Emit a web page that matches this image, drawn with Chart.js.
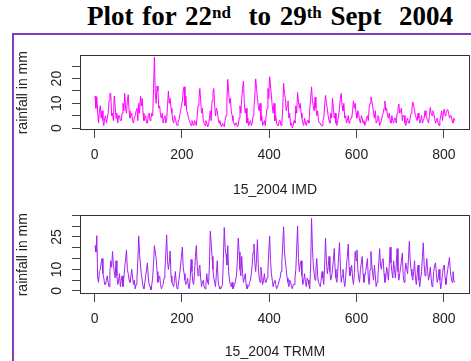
<!DOCTYPE html>
<html>
<head>
<meta charset="utf-8">
<script src="https://cdn.jsdelivr.net/npm/chart.js@4/dist/chart.umd.min.js"></script>
<style>
  body { margin: 0; background: #fff; width: 471px; height: 361px; overflow: hidden; position: relative; }
  #title { position: absolute; left: 87px; top: 1px; white-space: nowrap; font: bold 27px "Liberation Serif", "Times New Roman", serif; color: #000; word-spacing: 2px; }
  #title sup { font-size: 17px; vertical-align: 7px; line-height: 0; }
  #frameTop { position: absolute; left: 12px; top: 33px; width: 459px; height: 2px; background: #7f3fbf; z-index: 5; }
  #frameLeft { position: absolute; left: 12px; top: 33px; width: 2px; height: 328px; background: #7f3fbf; z-index: 5; }
  canvas { position: absolute; left: 0; }
  #imd { top: 40px; }
  #trmm { top: 200px; }
</style>
</head>
<body>
<div id="title">Plot for 22<sup>nd</sup>&nbsp; to 29<sup>th</sup> Sept&nbsp; 2004</div>
<div id="frameTop"></div>
<div id="frameLeft"></div>
<canvas id="imd" width="471" height="160"></canvas>
<canvas id="trmm" width="471" height="161"></canvas>
<script>
// one reading every 2 time steps (index 1, 3, 5 ... 825)
let step = 2;

let imdRain = [
  13,8, 12.5,6, 2,7, 9,4, 7,3, 1,4, 5,2, 4,6, 11,14, 14,5,
  6,3, 13,9, 4,6, 2,5, 5,3, 3,6, 10,7, 14,8, 6,11, 13.5,7,
  4,5, 6,3, 2,4, 5,7, 8,3, 10,6, 13,9, 12,6, 3,4, 5,2,
  2,5, 6,3, 4,6, 5,16, 28.7,14, 10,17, 15,8, 9,5, 4,6, 2,4,
  5,2, 3,9, 15,10, 12,8, 6,3, 2,5, 4,2, 1,3, 3,5, 7,9,
  11,15, 16.7,9, 13,7, 6,4, 3,2, 1,3, 2,1, 3,2, 1,5, 9,12,
  16,11, 6,8, 3,2, 1,3, 2,0.5, 1,4, 7,3, 11,14, 16,9, 5,8,
  7,4, 2,3, 1,0.5, 2,1, 0.5,3, 5,11, 19.7,15, 10,12, 7,5, 3,2,
  1,2, 2,0.5, 1,4, 9,6, 12,16, 19,10, 6,8, 2,4, 1,2, 3,1,
  2,5, 8,13, 19.9,16, 12,9, 7,10, 3,5, 1,2, 3,1, 5,8, 16,12,
  20.8,17, 13,9, 6,10, 3,5, 2,1, 1,3, 3,1, 2,8, 18.1,14, 12,7,
  9,11, 4,6, 1,2, 0,1, 3,2, 9,6, 14.4,11, 8,10, 6,4, 2,1,
  4,2, 1,3, 3,2, 8,12, 16.7,11, 9,7, 12.5,8, 5,7, 3,2, 2,1,
  1,3, 4,9, 13.2,10, 8,5, 3,2, 6,4, 12,8, 4,6, 2,1, 3,5,
  8,12, 14,9, 7,10, 4,5, 2,3, 5,2, 3,4, 4,7, 11,8, 10,6,
  4,7, 6,3, 2,5, 4,2, 3,1, 2,4, 5,3, 8,10, 12.6,11, 9,6,
  4,7, 2,3, 5,4, 1,2, 3,5, 6,8, 10.9,7, 8,5, 4,6, 3,2,
  5,3, 2,4, 4,2, 6,8, 9.7,6, 7,8, 3,5, 5,2, 1,3, 4,2,
  2,4, 6,8, 10.5,9, 7,5, 4,3, 6,4, 2,3, 5,2, 3,4, 7,5,
  4,3, 2,5, 8.3,6, 5,7, 6,4, 2,3, 4,2, 1,3, 5,7, 3,6,
  7.7,5, 6,7, 7.5,6, 4,5, 5,3, 2,4, 3
];

let trmmRain = [
  21,18, 25.6,6, 4,9, 10,13, 15,8, 6,3, 3,5, 7,4, 2,9, 14,11,
  18.3,12, 9,6, 14,7, 3,5, 8,2, 5,7, 2,6, 11,15, 19,10, 8,5,
  4,7, 10,6, 3,5, 1,3, 6,14, 25.5,17, 12,8, 5,2, 1,4, 7,10,
  13,6, 3,2, 0.5,3, 6,13, 21,18, 15,9, 4,6, 7,3, 1,2, 3,6,
  9,17, 26,14, 10,13, 18.5,7, 4,3, 2,5, 9,4, 1,2, 5,8, 12,16,
  20.3,11, 8,5, 3,4, 6,2, 1,6, 14.6,9, 4,3, 9,16, 21,12, 7,10,
  12,6, 2,4, 5,2, 1,3, 8,4, 3,12, 27.7,22, 16,10, 6,4, 2,8,
  14,5, 2,1, 1,2, 3,15, 29.4,20, 17,12, 21,9, 5,3, 2,4, 1,2,
  3,5, 7,14, 24.5,18, 10,7, 16,8, 4,6, 8,3, 1,2, 2,4, 5,8,
  12,18, 21.8,13, 9,15, 23.8,11, 6,4, 11,7, 3,5, 8,4, 4,6, 10,18,
  25.5,14, 8,5, 2,4, 5,3, 1,2, 3,5, 6,9, 13,22, 29.7,18, 13.6,10,
  6,4, 2,5, 4,2, 1,3, 3,6, 10,20, 30.1,15, 9,12, 14,7, 3,5,
  8,4, 2,6, 5,3, 1,12, 33.6,20, 12,8, 5,10, 15,7, 4,3, 2,5,
  9,6, 3,12, 24.5,14, 8,11, 16,9, 5,7, 10,14, 19.6,10, 6,4, 9,16,
  22.4,12, 4,7, 10,5, 2,6, 12,16, 21.7,11, 7,9, 12,6, 3,8, 18.3,14,
  19,10, 6,4, 10,13, 16,8, 4,7, 9,12, 15,6, 3,10, 18.3,12, 8,5,
  12,7, 2,4, 7,13, 19.6,12, 10,14, 15,8, 4,6, 11,9, 5,12, 20.3,13,
  9,6, 14,10, 6,12, 19.6,9, 5,8, 11,14, 17.6,7, 4,9, 13,10, 8,15,
  23,14, 10,7, 5,9, 14,6, 3,8, 12,5, 2,6, 9,16, 22.3,12, 7,10,
  15,9, 5,7, 11,6, 2,4, 9,12, 13,8, 4,6, 10,5, 1,4, 8,11,
  12,6, 3,7, 10,13, 15.5,9, 6,4, 9,5, 4
];

let imdYLabels = [0, 10, 20];
let trmmYLabels = [0, 10, 25];

let textFont = { family: 'Liberation Sans, Arial, sans-serif', size: 14 };
let textColor = '#222';

let boxPlugin = {
  id: 'box',
  afterDraw(chart) {
    let a = chart.chartArea;
    let ctx = chart.ctx;
    ctx.save();
    ctx.strokeStyle = '#333';
    ctx.lineWidth = 1;
    ctx.strokeRect(Math.round(a.left) + 0.5, Math.round(a.top) + 0.5, Math.round(a.right - a.left) - 1, Math.round(a.bottom - a.top) - 1);
    ctx.restore();
  }
};

function makeChart(id, values, color, yMin, yMax, yLabels, xTitle, padTop, xHeight, titlePad) {
  let points = values.map((v, i) => ({ x: 1 + i * step, y: v }));
  return new Chart(document.getElementById(id).getContext('2d'), {
    type: 'line',
    data: {
      datasets: [{
        data: points,
        borderColor: color,
        borderWidth: 1,
        pointRadius: 0,
        tension: 0
      }]
    },
    options: {
      responsive: false,
      animation: false,
      layout: { padding: { top: padTop, right: 1, left: 0, bottom: 0 } },
      plugins: { legend: { display: false }, tooltip: { enabled: false } },
      scales: {
        x: {
          type: 'linear',
          min: -33.5,
          max: 860,
          afterFit(scale) { scale.height = xHeight; },
          border: { display: false },
          grid: { drawOnChartArea: false, drawTicks: true, tickLength: 8, color: '#444' },
          ticks: { stepSize: 200, includeBounds: false, autoSkip: false, font: textFont, color: textColor, padding: 9, maxRotation: 0 },
          title: { display: true, text: xTitle, font: textFont, color: textColor, padding: { top: 0, bottom: titlePad } }
        },
        y: {
          min: yMin,
          max: yMax,
          afterFit(scale) { scale.width = 80; },
          border: { display: false },
          grid: { drawOnChartArea: false, drawTicks: true, tickLength: 8, color: '#444' },
          ticks: {
            stepSize: 5,
            includeBounds: false,
            autoSkip: false,
            minRotation: 90,
            maxRotation: 90,
            crossAlign: 'center',
            padding: 7,
            font: textFont,
            color: textColor,
            callback: (v) => yLabels.includes(v) ? String(v) : ''
          },
          title: { display: true, text: 'rainfall in mm', font: textFont, color: textColor, padding: { top: 14.6, bottom: 0 } }
        }
      }
    },
    plugins: [boxPlugin]
  });
}

makeChart('imd', imdRain, '#ff00ff', -0.8, 29.4, imdYLabels, '15_2004 IMD', 3, 70, 1.6);
makeChart('trmm', trmmRain, '#a020f0', -1.4, 35, trmmYLabels, '15_2004 TRMM', 7, 67, 0);
</script>
</body>
</html>
